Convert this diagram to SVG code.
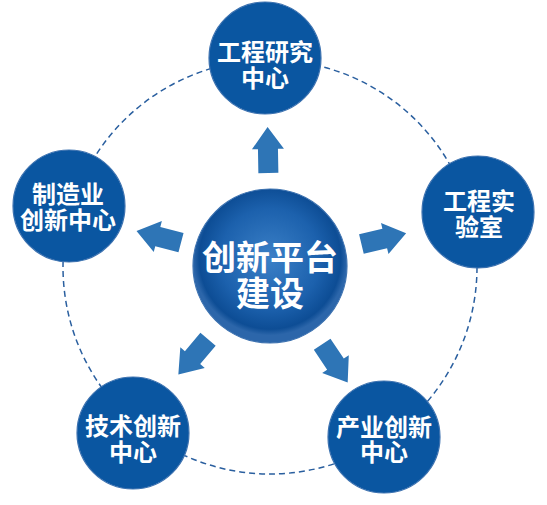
<svg xmlns="http://www.w3.org/2000/svg" width="547" height="505" viewBox="0 0 547 505">
<defs>
<style>
.node{fill:#0a56a1;stroke:#3d72b0;stroke-width:1.2}
.lbl{font-family:"Noto Sans CJK SC","Noto Sans",sans-serif;font-weight:700;fill:#ffffff;text-anchor:middle;font-size:24px}
.big{font-size:34px}
.arr{fill:#2e75b6}
.ring{fill:none;stroke:#2a5f9f;stroke-width:1.5;stroke-dasharray:6 4}
</style>
<radialGradient id="cg" cx="50%" cy="45%" r="50%">
<stop offset="0%" stop-color="#3b80c7"/>
<stop offset="65%" stop-color="#1c61ad"/>
<stop offset="92%" stop-color="#0d4d95"/>
<stop offset="100%" stop-color="#2c66aa"/>
</radialGradient>
<path id="ar" d="M0,-10 L24,-10 L24,-16 L46,0 L24,16 L24,10 L0,10 Z"/>
</defs>
<rect width="547" height="505" fill="#ffffff"/>
<g id="connectors">
<circle class="ring" cx="270" cy="267" r="207"/>
<g class="arr">
<use href="#ar" transform="translate(270,266) rotate(-91) translate(93,0)"/>
<use href="#ar" transform="translate(270,266) rotate(-13.5) translate(94,0)"/>
<use href="#ar" transform="translate(270,266) rotate(-165.3) translate(92,0)"/>
<use href="#ar" transform="translate(270,266) rotate(130.2) translate(96,0)"/>
<use href="#ar" transform="translate(270,266) rotate(56.3) translate(94,0)"/>
</g>
</g>
<g id="center">
<circle cx="270" cy="266" r="77" fill="url(#cg)" stroke="#3d72b0" stroke-width="1.2"/>
<text class="lbl big"><tspan x="270" y="270">创新平台</tspan><tspan x="270" y="306">建设</tspan></text>
</g>
<g id="n-top">
<circle class="node" cx="265" cy="58" r="56"/>
<text class="lbl"><tspan x="265" y="61">工程研究</tspan><tspan x="265" y="87">中心</tspan></text>
</g>
<g id="n-right">
<circle class="node" cx="478" cy="212" r="56"/>
<text class="lbl"><tspan x="479" y="210">工程实</tspan><tspan x="479" y="236">验室</tspan></text>
</g>
<g id="n-left">
<circle class="node" cx="69" cy="206" r="56"/>
<text class="lbl"><tspan x="68" y="203">制造业</tspan><tspan x="68" y="229">创新中心</tspan></text>
</g>
<g id="n-bl">
<circle class="node" cx="133" cy="433" r="56"/>
<text class="lbl"><tspan x="133" y="435">技术创新</tspan><tspan x="133" y="461">中心</tspan></text>
</g>
<g id="n-br">
<circle class="node" cx="384" cy="437" r="56"/>
<text class="lbl"><tspan x="384" y="436">产业创新</tspan><tspan x="384" y="461">中心</tspan></text>
</g>
</svg>
